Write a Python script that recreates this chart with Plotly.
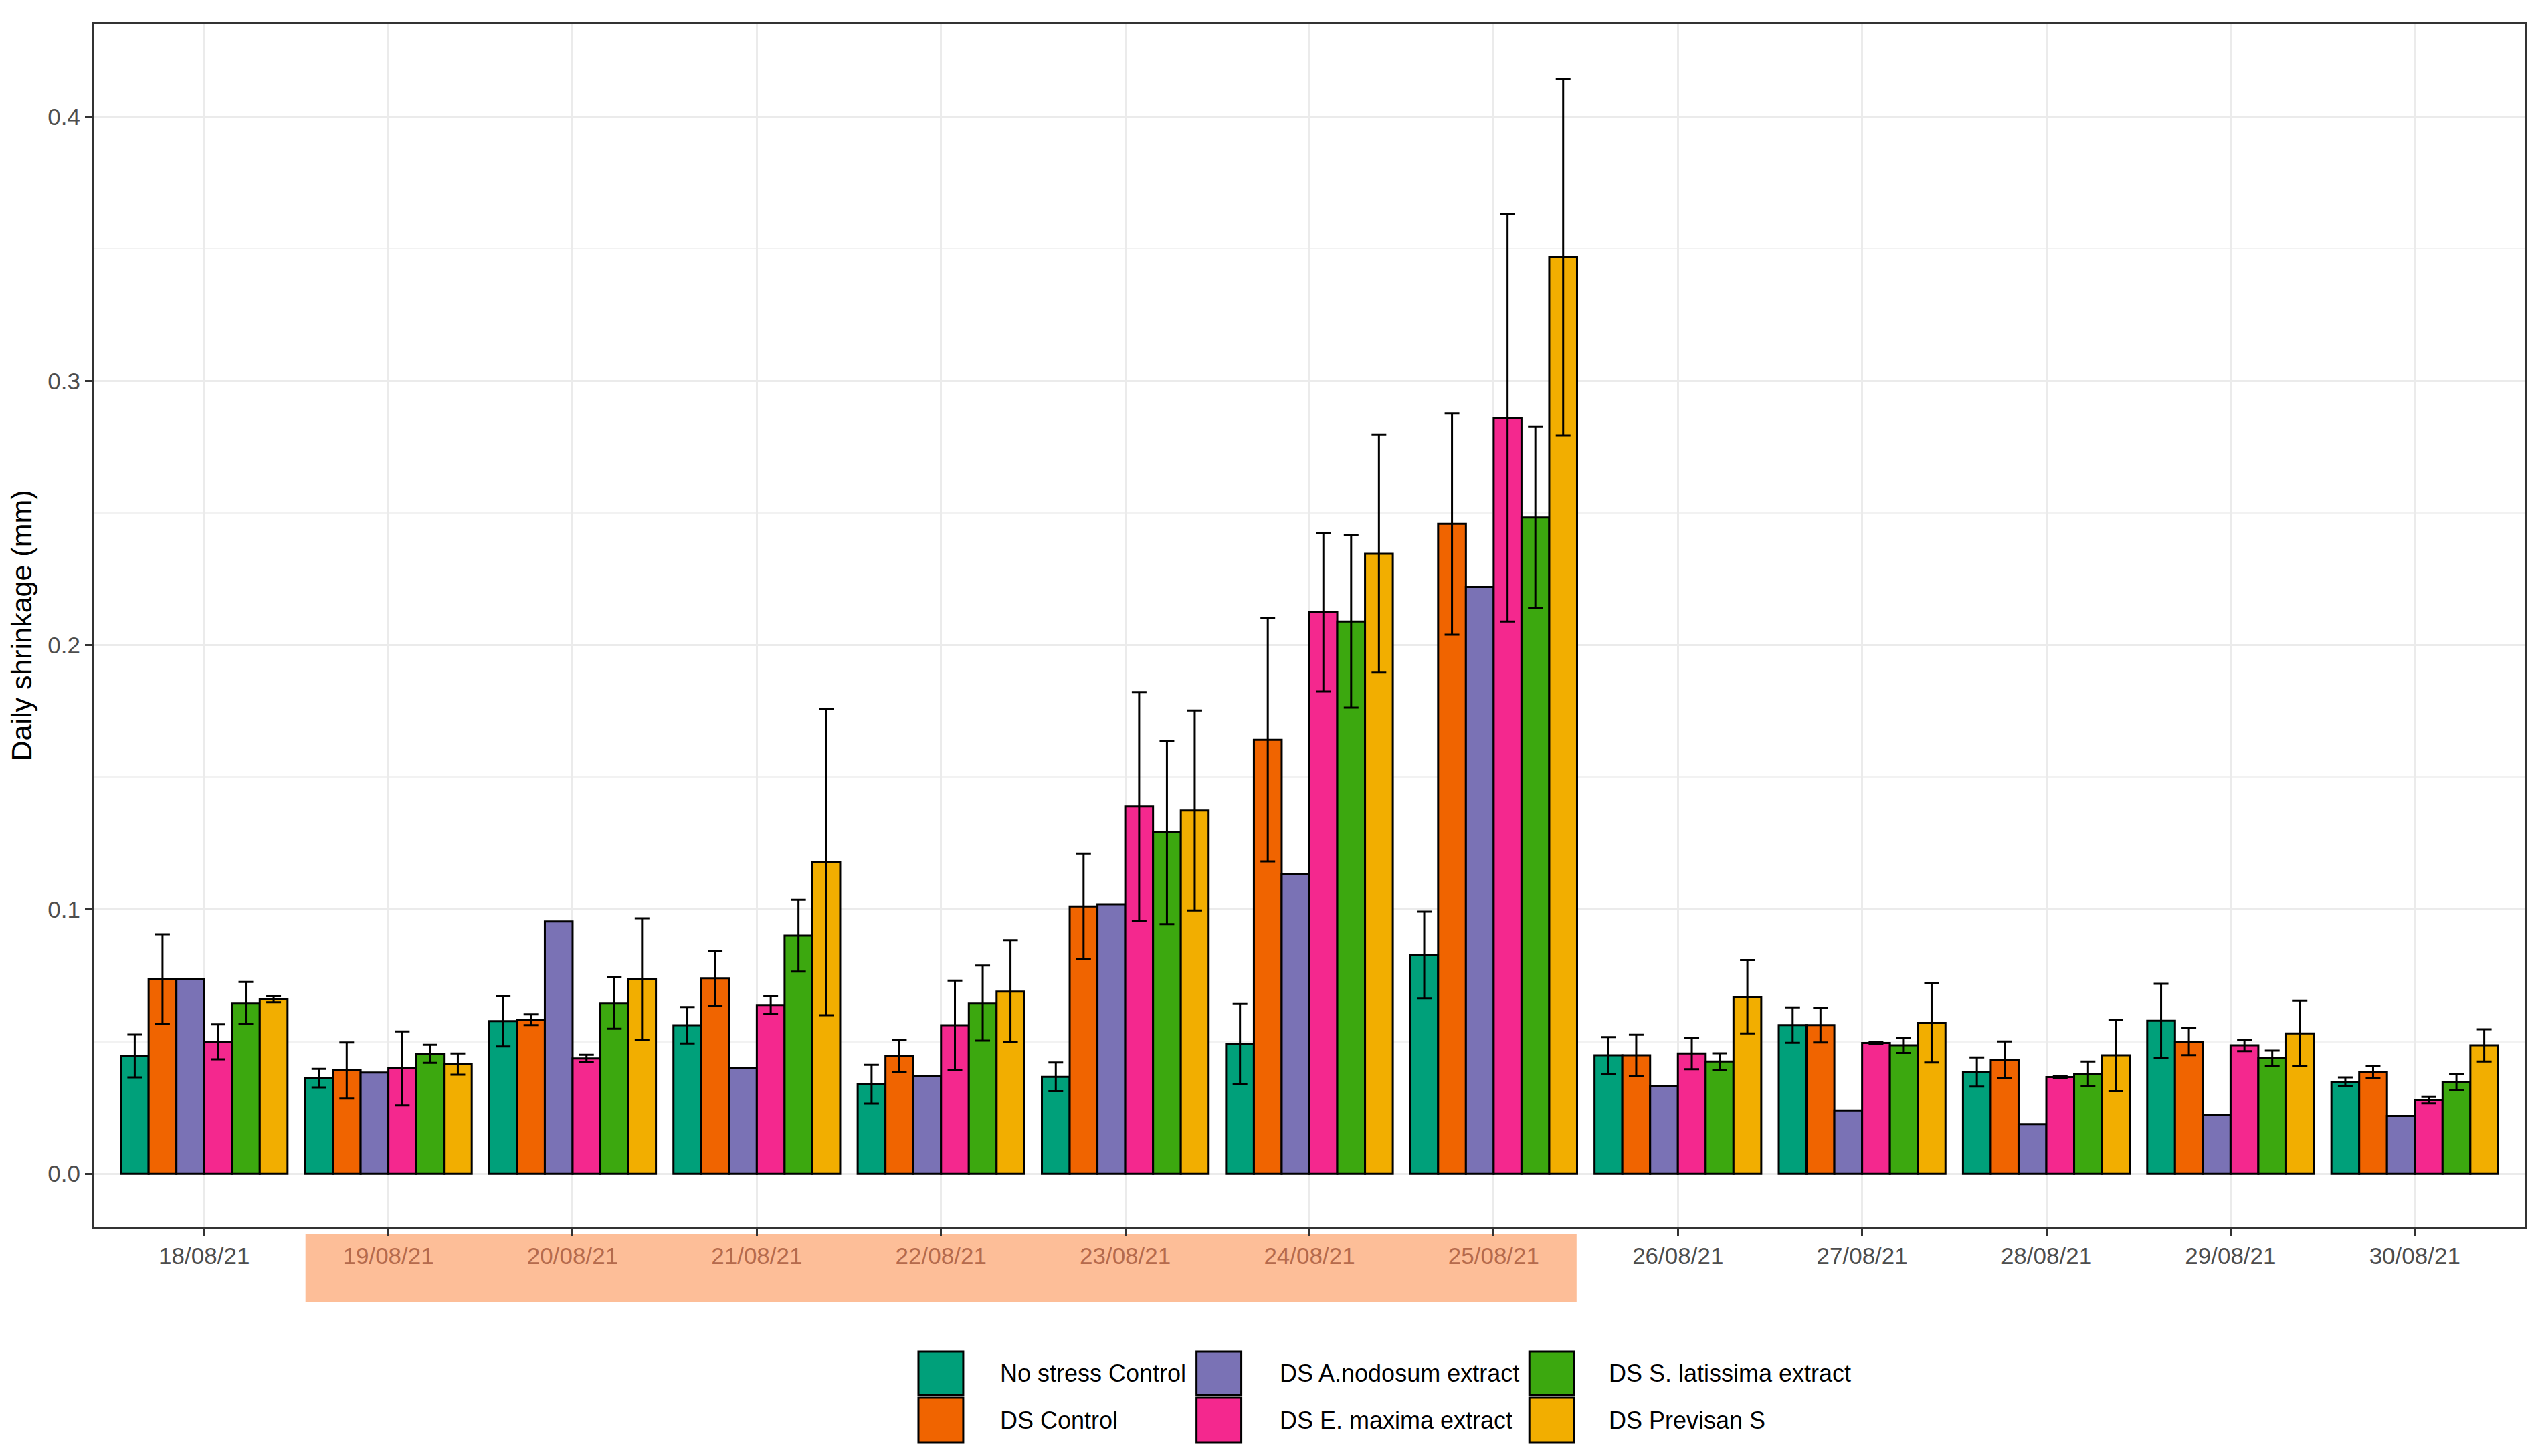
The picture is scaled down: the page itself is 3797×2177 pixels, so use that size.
import plotly.graph_objects as go

# dates on the x axis, the drought-stress days are highlighted
dates = ["18/08/21", "19/08/21", "20/08/21", "21/08/21", "22/08/21", "23/08/21", "24/08/21",
         "25/08/21", "26/08/21", "27/08/21", "28/08/21", "29/08/21", "30/08/21"]
stress_days = ["19/08/21", "20/08/21", "21/08/21", "22/08/21", "23/08/21", "24/08/21", "25/08/21"]

series_names = ["No stress Control", "DS Control", "DS A.nodosum extract",
                "DS E. maxima extract", "DS S. latissima extract", "DS Previsan S"]
series_colors = ["#00A07A", "#F06400", "#7A72B5", "#F4288E", "#3CA80F", "#F2AE00"]

# daily shrinkage (mm), mean and standard error per treatment
no_stress = [0.0446, 0.0362, 0.0578, 0.0562, 0.0339, 0.0367, 0.0492, 0.0828, 0.0448, 0.0563, 0.0385, 0.0579, 0.0348]
no_stress_err = [0.0081, 0.0035, 0.0096, 0.0069, 0.0073, 0.0054, 0.0153, 0.0164, 0.0069, 0.0067, 0.0055, 0.0140, 0.0017]

ds_control = [0.0737, 0.0392, 0.0583, 0.0740, 0.0446, 0.1012, 0.1642, 0.2459, 0.0448, 0.0563, 0.0432, 0.0500, 0.0385]
ds_control_err = [0.0169, 0.0105, 0.0020, 0.0104, 0.0060, 0.0200, 0.0460, 0.0419, 0.0078, 0.0066, 0.0069, 0.0051, 0.0022]

anodosum = [0.0737, 0.0383, 0.0955, 0.0401, 0.0370, 0.1020, 0.1134, 0.2221, 0.0332, 0.0240, 0.0188, 0.0224, 0.0219]

emaxima = [0.0499, 0.0399, 0.0436, 0.0639, 0.0562, 0.1390, 0.2125, 0.2860, 0.0455, 0.0495, 0.0366, 0.0486, 0.0280]
emaxima_err = [0.0066, 0.0140, 0.0014, 0.0035, 0.0169, 0.0433, 0.0300, 0.0770, 0.0059, 0.0004, 0.0003, 0.0022, 0.0013]

slatissima = [0.0646, 0.0454, 0.0646, 0.0901, 0.0646, 0.1292, 0.2090, 0.2483, 0.0425, 0.0486, 0.0378, 0.0437, 0.0348]
slatissima_err = [0.0080, 0.0034, 0.0097, 0.0136, 0.0142, 0.0347, 0.0326, 0.0343, 0.0031, 0.0029, 0.0047, 0.0029, 0.0031]

previsan = [0.0662, 0.0415, 0.0737, 0.1179, 0.0692, 0.1375, 0.2346, 0.3468, 0.0670, 0.0571, 0.0448, 0.0531, 0.0486]
previsan_err = [0.0013, 0.0040, 0.0230, 0.0579, 0.0192, 0.0378, 0.0450, 0.0674, 0.0139, 0.0150, 0.0135, 0.0124, 0.0061]

means = [no_stress, ds_control, anodosum, emaxima, slatissima, previsan]
errors = [no_stress_err, ds_control_err, None, emaxima_err, slatissima_err, previsan_err]

# page is 3797x2177, the html body adds an 8px margin
OFF = 8
W, H = 3797 - 2 * OFF, 2177 - 2 * OFF
ML, MR, MT, MB = 140 - OFF, 19 - OFF, 36 - OFF, 342 - OFF
FONT = "Arial, Liberation Sans, sans-serif"

fig = go.Figure()
for name, col, y, err in zip(series_names, series_colors, means, errors):
    fig.add_trace(go.Bar(
        x=dates, y=y, name=name,
        marker=dict(color=col, line=dict(color="black", width=3)),
        error_y=dict(type="data", array=err, visible=err is not None,
                     color="black", thickness=3, width=11),
        showlegend=False,
    ))

# salmon band under the stress-day labels
fig.add_shape(type="rect", xref="x", yref="paper",
              x0=dates.index(stress_days[0]) - 0.45, x1=dates.index(stress_days[-1]) + 0.45,
              y0=-0.0623, y1=-0.0056, fillcolor="#FDBE98", line=dict(width=0), layer="below")

ticktext = [f"<span style='color:#B56A4C'>{d}</span>" if d in stress_days else d for d in dates]

# hand-made legend: 3 columns x 2 rows, filled column-wise (page pixel coords)
pw, ph = W - ML - MR, H - MT - MB
def px_x(v):
    return (v - OFF - ML) / pw
def px_y(v):
    return (H - MB - (v - OFF)) / ph

key_x = [1374, 1790, 2288]
text_x = [1494, 1912, 2405]
key_y = [(2021, 2086), (2090, 2157)]
for i, (name, col) in enumerate(zip(series_names, series_colors)):
    c, r = i // 2, i % 2
    fig.add_shape(type="rect", xref="paper", yref="paper",
                  x0=px_x(key_x[c]), x1=px_x(key_x[c] + 67),
                  y0=px_y(key_y[r][1]), y1=px_y(key_y[r][0]),
                  fillcolor=col, line=dict(color="black", width=3))
    fig.add_annotation(xref="paper", yref="paper", x=px_x(text_x[c]),
                       y=px_y(sum(key_y[r]) / 2), text=name, showarrow=False,
                       xanchor="left", yanchor="middle",
                       font=dict(family=FONT, size=36, color="black"))

fig.update_layout(
    width=W, height=H, autosize=False,
    margin=dict(l=ML, r=MR, t=MT, b=MB),
    barmode="group", bargap=0.095, bargroupgap=0,
    plot_bgcolor="white", paper_bgcolor="white",
    font=dict(family=FONT, size=35, color="#4D4D4D"),
    showlegend=False,
)
fig.update_xaxes(
    type="category", range=[-0.6, 12.6],
    tickvals=dates, ticktext=ticktext,
    showgrid=True, gridcolor="#EBEBEB", gridwidth=3,
    showline=True, mirror=True, linecolor="#333333", linewidth=3,
    ticks="outside", ticklen=10, tickwidth=3, tickcolor="#333333",
    tickfont=dict(family=FONT, size=35, color="#4D4D4D"),
    zeroline=False,
)
fig.update_yaxes(
    range=[-0.0202, 0.435],
    tickvals=[0, 0.1, 0.2, 0.3, 0.4], ticktext=["0.0", "0.1", "0.2", "0.3", "0.4"],
    showgrid=True, gridcolor="#EBEBEB", gridwidth=3,
    minor=dict(dtick=0.05, showgrid=True, gridcolor="#F2F2F2", gridwidth=2),
    showline=True, mirror=True, linecolor="#333333", linewidth=3,
    ticks="outside", ticklen=10, tickwidth=3, tickcolor="#333333",
    tickfont=dict(family=FONT, size=35, color="#4D4D4D"),
    zeroline=False,
    title=dict(text="Daily shrinkage (mm)", standoff=14,
               font=dict(family=FONT, size=43, color="black")),
)

fig.write_html("out.html")
